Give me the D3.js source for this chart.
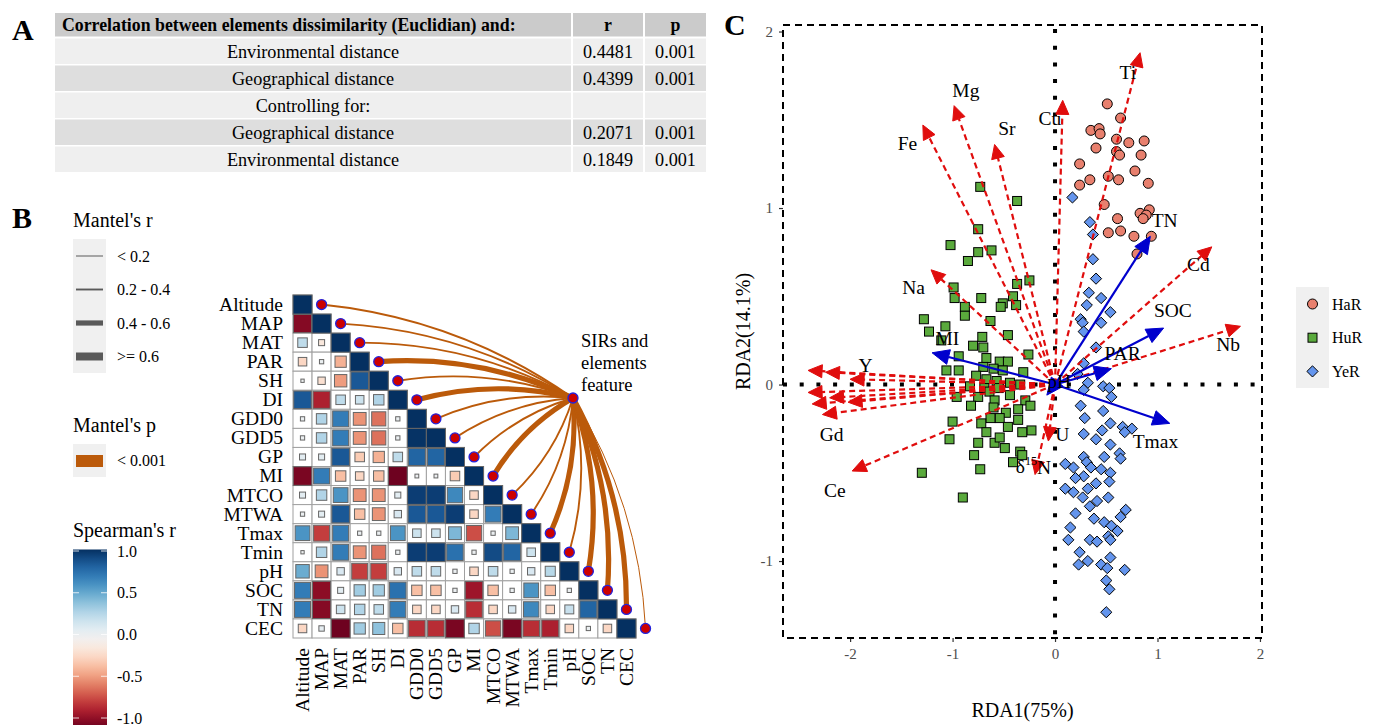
<!DOCTYPE html>
<html>
<head>
<meta charset="utf-8">
<script src="https://cdn.jsdelivr.net/npm/d3@7"></script>
<style>
  body { margin: 0; background: #fff; }
  svg, svg text { font-family: "Liberation Serif", "Times New Roman", Times, serif; }
</style>
</head>
<body>
<svg id="fig" width="1373" height="725"></svg>
<script>
// ---------------- Panel A: Mantel test table ----------------
const tableHeader = ["Correlation between elements dissimilarity (Euclidian) and:", "r", "p"];
const tableRows = ["Environmental distance", "Geographical distance", "Controlling for:", "Geographical distance", "Environmental distance"];
const tableR = ["0.4481", "0.4399", "", "0.2071", "0.1849"];
const tableP = ["0.001", "0.001", "", "0.001", "0.001"];

// ---------------- Panel B: Spearman matrix + Mantel links ----------------
const envVars = ["Altitude","MAP","MAT","PAR","SH","DI","GDD0","GDD5","GP","MI","MTCO","MTWA","Tmax","Tmin","pH","SOC","TN","CEC"];
// lower triangle, row i holds correlations with variables 0..i-1
const spearmanRows = [
  [],
  [-0.92],
  [0.25, -0.10],
  [-0.20, 0.05, -0.35],
  [0.03, -0.15, -0.42, 0.85],
  [0.85, -0.80, 0.25, 0.20, 0.30],
  [0.05, 0.30, 0.70, -0.45, -0.55, 0.05],
  [0.05, 0.30, 0.70, -0.45, -0.55, 0.05, 0.99],
  [0.10, 0.10, 0.85, -0.25, -0.35, 0.25, 0.80, 0.80],
  [-0.95, 0.70, -0.30, -0.20, -0.30, -0.98, 0.04, 0.04, -0.25],
  [0.10, 0.30, 0.60, -0.45, -0.45, 0.10, 0.95, 0.95, 0.65, -0.20],
  [0.05, 0.10, 0.85, -0.30, -0.45, 0.15, 0.85, 0.85, 0.95, -0.20, 0.70],
  [0.60, -0.70, 0.70, 0.05, 0.05, 0.60, 0.20, 0.20, 0.45, -0.65, 0.05, 0.45],
  [0.03, 0.30, 0.70, -0.45, -0.55, 0.05, 0.95, 0.95, 0.75, 0.05, 0.90, 0.80, 0.20],
  [0.50, -0.45, 0.15, -0.70, -0.70, 0.15, 0.25, 0.25, 0.05, -0.20, 0.25, 0.05, 0.15, 0.28],
  [0.70, -0.90, 0.10, 0.35, 0.35, 0.75, -0.30, -0.30, 0.05, -0.85, -0.30, 0.05, 0.60, -0.30, 0.05],
  [0.70, -0.92, 0.20, 0.30, 0.25, 0.70, -0.20, -0.20, 0.15, -0.75, -0.20, 0.15, 0.65, -0.20, 0.22, 0.80],
  [-0.20, 0.08, -0.98, 0.35, 0.40, -0.30, -0.75, -0.75, -0.95, 0.30, -0.65, -0.95, -0.75, -0.80, -0.20, 0.05, -0.20]
];
// Mantel's r between each variable and the SIRs/elements feature (all p < 0.001)
const mantelLinkR = [0.30,0.30,0.30,0.50,0.30,0.50,0.30,0.30,0.30,0.50,0.30,0.30,0.50,0.30,0.50,0.50,0.50,0.10];
const mantelRClasses = ["< 0.2", "0.2 - 0.4", "0.4 - 0.6", ">= 0.6"];
const mantelRBreaks = [0.2, 0.4, 0.6];
const spearmanTicks = [1.0, 0.5, 0.0, -0.5, -1.0];

// ---------------- Panel C: RDA biplot ----------------
const groups = ["HaR", "HuR", "YeR"];
const HaR = [[0.51,1.59],[0.64,1.51],[0.35,1.44],[0.43,1.45],[0.44,1.42],[0.60,1.39],[0.72,1.37],[0.87,1.38],[0.40,1.34],[0.60,1.32],[0.63,1.30],[0.84,1.30],[0.24,1.25],[0.78,1.21],[0.52,1.18],[0.34,1.16],[0.62,1.16],[0.91,1.14],[0.24,1.13],[0.48,1.02],[0.92,0.99],[0.83,0.97],[0.89,0.96],[0.86,0.94],[0.61,0.94],[0.52,0.86],[0.64,0.87],[0.77,0.84],[0.94,0.84],[0.80,0.74]];
const HuR = [[-0.73,1.12],[-0.37,1.04],[-0.75,0.88],[-1.02,0.79],[-0.75,0.75],[-0.85,0.70],[-0.62,0.76],[-0.37,0.57],[-0.25,0.59],[-0.99,0.55],[-0.98,0.49],[-0.72,0.49],[-0.41,0.50],[-0.51,0.46],[-0.38,0.45],[-0.88,0.44],[-0.88,0.39],[-1.28,0.37],[-0.63,0.36],[-0.53,0.44],[-1.23,0.30],[-1.07,0.33],[-1.11,0.25],[-0.46,0.28],[-0.71,0.27],[-0.80,0.22],[-0.70,0.21],[-0.26,0.17],[-0.94,0.16],[-0.67,0.15],[-0.54,0.13],[-0.46,0.13],[-0.70,0.10],[-1.06,0.08],[-0.94,0.08],[-0.60,0.09],[-0.51,0.08],[-0.31,0.07],[-0.77,0.05],[-0.67,0.03],[-0.57,0.02],[-0.44,0.01],[-0.34,0.00],[-0.83,-0.01],[-0.69,-0.02],[-0.55,-0.02],[-0.64,-0.04],[-0.44,-0.06],[-0.96,-0.07],[-0.75,-0.07],[-0.59,-0.09],[-0.29,-0.09],[-0.24,-0.12],[-0.82,-0.12],[-0.60,-0.13],[-0.48,-0.16],[-0.36,-0.14],[-0.54,-0.19],[-0.63,-0.19],[-0.36,-0.20],[-0.72,-0.22],[-1.00,-0.21],[-0.46,-0.24],[-0.23,-0.26],[-0.32,-0.27],[-0.67,-0.27],[-1.03,-0.31],[-0.75,-0.33],[-0.59,-0.33],[-0.54,-0.30],[-0.49,-0.36],[-0.34,-0.38],[-0.79,-0.40],[-0.32,-0.40],[-0.41,-0.44],[-1.30,-0.50],[-0.73,-0.48],[-0.90,-0.64]];
const YeR = [[0.17,1.06],[0.34,0.92],[0.37,0.85],[0.37,0.71],[0.40,0.60],[0.33,0.52],[0.45,0.49],[0.31,0.45],[0.54,0.41],[0.25,0.37],[0.27,0.35],[0.45,0.35],[0.28,0.30],[0.40,0.21],[0.28,0.12],[0.22,0.06],[0.32,0.01],[0.47,-0.01],[0.28,-0.03],[0.53,-0.02],[0.55,-0.07],[0.25,-0.12],[0.47,-0.15],[0.29,-0.19],[0.54,-0.22],[0.46,-0.26],[0.66,-0.24],[0.75,-0.25],[0.68,-0.27],[0.28,-0.28],[0.40,-0.31],[0.54,-0.34],[0.63,-0.39],[0.64,-0.42],[0.28,-0.41],[0.48,-0.41],[0.10,-0.45],[0.31,-0.44],[0.35,-0.47],[0.18,-0.47],[0.45,-0.48],[0.54,-0.50],[0.28,-0.52],[0.40,-0.56],[0.20,-0.53],[0.53,-0.55],[0.10,-0.59],[0.18,-0.61],[0.32,-0.59],[0.27,-0.64],[0.41,-0.66],[0.52,-0.64],[0.34,-0.69],[0.69,-0.71],[0.20,-0.73],[0.64,-0.75],[0.38,-0.76],[0.48,-0.78],[0.15,-0.81],[0.55,-0.80],[0.61,-0.83],[0.34,-0.88],[0.41,-0.89],[0.52,-0.86],[0.54,-0.88],[0.13,-0.88],[0.24,-0.95],[0.23,-1.02],[0.32,-1.00],[0.45,-1.02],[0.54,-0.98],[0.51,-1.04],[0.68,-1.05],[0.50,-1.11],[0.53,-1.16],[0.50,-1.29]];

// element (response) vectors: name, tip x, tip y, label x, label y
const elemNames = ["Ti","Cu","Mg","Sr","Fe","Na","Cd","Nb","Y","","","","","","Gd","","Ce","U","δ15N"];
const elemX     = [0.83, 0.075,-0.985,-0.59,-1.29,-1.21, 1.53, 1.81,-2.41,-2.24,-2.00,-2.41,-2.20,-2.02,-2.27,-2.37,-1.98,-0.065,-0.195];
const elemY     = [1.88, 1.61, 1.58, 1.36, 1.47, 0.65, 0.78, 0.33, 0.08, 0.07, 0.03,-0.045,-0.075,-0.10,-0.17,-0.11,-0.49,-0.32,-0.51];
const elemLabX  = [0.71,-0.05,-0.87,-0.47,-1.44,-1.38, 1.40, 1.69,-1.85, 0, 0, 0, 0, 0,-2.18, 0,-2.15, 0.07,-0.21];
const elemLabY  = [1.77, 1.51, 1.67, 1.45, 1.37, 0.55, 0.68, 0.23, 0.11, 0, 0, 0, 0, 0,-0.28, 0,-0.60,-0.28,-0.46];

// environmental (explanatory) vectors
const envNames = ["TN","SOC","PAR","Tmax","MI","pH"];
const envX     = [0.93, 1.06, 0.55, 1.12,-1.20,-0.08];
const envY     = [0.84, 0.32, 0.09,-0.22, 0.18,-0.06];
const envLabX  = [1.07, 1.15, 0.66, 0.98,-1.05, 0.04];
const envLabY  = [0.93, 0.42, 0.18,-0.32, 0.26, 0.02];

const rdaTicksX = [-2, -1, 0, 1, 2];
const rdaTicksY = [-1, 0, 1, 2];

// ================================================================
const serif = '"Liberation Serif", "Times New Roman", Times, serif';
const svg = d3.select("#fig").attr("font-family", serif);

// panel letters
[["A", 12, 40], ["B", 12, 228], ["C", 724, 35]].forEach(([t, x, y]) =>
  svg.append("text").attr("x", x).attr("y", y).attr("font-size", 30)
     .attr("font-family", serif).attr("font-weight", "bold").text(t));

// ---------------- A ----------------
(function drawTable() {
  const g = svg.append("g").attr("font-family", serif);
  const colX = d3.scaleOrdinal().domain([0, 1, 2]).range([54, 572, 644]);
  const colW = [518, 72, 63];
  const rowY = d3.scaleBand().domain(d3.range(tableRows.length)).range([37.5, 172.5]);
  const rowBg = ["#efefef", "#dedede", "#efefef", "#dedede", "#efefef"];
  // header
  tableHeader.forEach((h, c) => {
    g.append("rect").attr("x", colX(c) + 1).attr("y", 13).attr("width", colW[c] - 2)
     .attr("height", 23.5).attr("fill", "#cbcbcb");
    g.append("text").attr("x", c === 0 ? colX(c) + 8 : colX(c) + colW[c] / 2)
     .attr("y", 31).attr("text-anchor", c === 0 ? "start" : "middle")
     .attr("font-family", serif)
     .attr("font-size", 17.8).attr("font-weight", "bold").text(h);
  });
  tableRows.forEach((lab, i) => {
    const cells = [lab, tableR[i], tableP[i]];
    cells.forEach((t, c) => {
      g.append("rect").attr("x", colX(c) + 1).attr("y", rowY(i) + 1)
       .attr("width", colW[c] - 2).attr("height", rowY.bandwidth() - 1.5)
       .attr("fill", rowBg[i]);
      g.append("text").attr("x", colX(c) + colW[c] / 2).attr("y", rowY(i) + rowY.bandwidth() / 2 + 6.5)
       .attr("text-anchor", "middle").attr("font-family", serif).attr("font-size", 18.2).text(t);
    });
  });
})();

// ---------------- B ----------------
const colorRdBu = v => d3.interpolateRdBu((v + 1) / 2);
const band = d3.scaleBand().domain(envVars).range([293, 636]);
const bandY = d3.scaleBand().domain(envVars).range([295, 638]);
const cs = band.bandwidth();
const sideScale = d3.scaleSqrt().domain([0, 1]).range([0, cs]);
const linkWidth = d3.scaleThreshold().domain(mantelRBreaks).range([1, 1.9, 5.2, 8]);
const linkColor = "#bb5a0a";

(function drawMatrix() {
  const g = svg.append("g").attr("font-family", serif);
  const cells = [];
  envVars.forEach((rv, i) => {
    for (let j = 0; j <= i; j++) {
      cells.push({ row: rv, col: envVars[j], r: i === j ? 1 : spearmanRows[i][j] });
    }
  });
  g.selectAll("rect.cell").data(cells).join("rect").attr("class", "cell")
    .attr("x", d => band(d.col)).attr("y", d => bandY(d.row))
    .attr("width", cs).attr("height", cs)
    .attr("fill", "#fff").attr("stroke", "#a0a0a0").attr("stroke-width", 1);
  g.selectAll("rect.sq").data(cells).join("rect").attr("class", "sq")
    .attr("x", d => band(d.col) + (cs - sideScale(Math.abs(d.r))) / 2)
    .attr("y", d => bandY(d.row) + (cs - sideScale(Math.abs(d.r))) / 2)
    .attr("width", d => sideScale(Math.abs(d.r)))
    .attr("height", d => sideScale(Math.abs(d.r)))
    .attr("fill", d => colorRdBu(d.r)).attr("stroke", "#666").attr("stroke-width", 1);

  // row labels
  g.selectAll("text.rl").data(envVars).join("text").attr("class", "rl")
    .attr("x", 283).attr("y", d => bandY(d) + cs / 2).attr("dy", "0.33em")
    .attr("text-anchor", "end").attr("font-family", serif).attr("font-size", 19.5).text(d => d);
  // column labels
  g.selectAll("text.cl").data(envVars).join("text").attr("class", "cl")
    .attr("transform", d => `translate(${band(d) + cs / 2},648) rotate(-90)`)
    .attr("dy", "0.33em").attr("text-anchor", "end").attr("font-family", serif)
    .attr("font-size", 19.5).text(d => d);

  // Mantel links
  const hub = [573, 398];
  const nodes = envVars.map((v, i) => ({
    name: v, r: mantelLinkR[i],
    x: 293 + (i + 1.5) * cs, y: bandY(v) + cs / 2
  }));
  const curve = (x0, y0, x1, y1) => {
    const dx = x1 - x0, dy = y1 - y0, L = Math.hypot(dx, dy);
    let nx = -dy / L, ny = dx / L;
    if (nx - ny < 0) { nx = -nx; ny = -ny; }
    const k = 0.13 * L;
    return `M${x0},${y0}Q${(x0 + x1) / 2 + nx * k},${(y0 + y1) / 2 + ny * k} ${x1},${y1}`;
  };
  g.selectAll("path.link").data(nodes).join("path").attr("class", "link")
    .attr("d", d => curve(hub[0], hub[1], d.x, d.y))
    .attr("fill", "none").attr("stroke", linkColor)
    .attr("stroke-width", d => linkWidth(d.r));
  g.selectAll("circle.node").data(nodes.concat([{ x: hub[0], y: hub[1] }])).join("circle")
    .attr("class", "node").attr("cx", d => d.x).attr("cy", d => d.y).attr("r", 5)
    .attr("fill", "#cc0000").attr("stroke", "#2222dd").attr("stroke-width", 1.3);
  const hubLab = g.append("text").attr("x", 581).attr("font-family", serif).attr("font-size", 18.5);
  ["SIRs and", "elements", "feature"].forEach((t, i) =>
    hubLab.append("tspan").attr("x", 581).attr("y", 347 + i * 22).text(t));
})();

(function drawLegendB() {
  const g = svg.append("g").attr("font-family", serif);
  g.append("text").attr("x", 73).attr("y", 227).attr("font-size", 20).text("Mantel's r");
  g.append("rect").attr("x", 73).attr("y", 239).attr("width", 33).attr("height", 134).attr("fill", "#f0f0f0");
  const widths = [0.1, 0.3, 0.5, 0.7].map(linkWidth);
  mantelRClasses.forEach((t, i) => {
    const cy = 256 + i * 33.5;
    g.append("line").attr("x1", 76).attr("x2", 103).attr("y1", cy).attr("y2", cy)
      .attr("stroke", "#5a5a5a").attr("stroke-width", widths[i]);
    g.append("text").attr("x", 117).attr("y", cy + 5.5).attr("font-size", 16).text(t);
  });
  g.append("text").attr("x", 73).attr("y", 432).attr("font-size", 20).text("Mantel's p");
  g.append("rect").attr("x", 73).attr("y", 444).attr("width", 33).attr("height", 33).attr("fill", "#f0f0f0");
  g.append("rect").attr("x", 76).attr("y", 455).attr("width", 27).attr("height", 12).attr("fill", linkColor);
  g.append("text").attr("x", 117).attr("y", 466).attr("font-size", 16).text("< 0.001");

  g.append("text").attr("x", 73).attr("y", 537).attr("font-size", 20).text("Spearman's r");
  const cbY = d3.scaleLinear().domain([-1, 1]).range([718, 551]);
  const defs = svg.append("defs");
  const grad = defs.append("linearGradient").attr("id", "rdbu").attr("x1", 0).attr("x2", 0).attr("y1", 1).attr("y2", 0);
  d3.range(0, 1.0001, 0.05).forEach(t =>
    grad.append("stop").attr("offset", t).attr("stop-color", d3.interpolateRdBu(t)));
  g.append("rect").attr("x", 73).attr("y", cbY(1) - 1.5).attr("width", 34)
    .attr("height", cbY(-1) - cbY(1) + 12).attr("fill", "url(#rdbu)");
  spearmanTicks.forEach(v => {
    [[73, 79], [101, 107]].forEach(([a, b]) =>
      g.append("line").attr("x1", a).attr("x2", b).attr("y1", cbY(v)).attr("y2", cbY(v))
        .attr("stroke", "#fff").attr("stroke-width", 1).attr("opacity", 0.8));
    g.append("text").attr("x", 117).attr("y", cbY(v) + 5.5).attr("font-size", 16)
      .text(v.toFixed(1));
  });
})();

// ---------------- C ----------------
(function drawRDA() {
  const g = svg.append("g").attr("font-family", serif);
  const x = d3.scaleLinear().domain([-2.655, 2.02]).range([783, 1262]);
  const y = d3.scaleLinear().domain([-1.436, 2.037]).range([638, 25]);
  const [X0, X1] = x.range(), [Y1, Y0] = y.range();

  // zero reference lines
  g.append("line").attr("x1", X0).attr("x2", X1).attr("y1", y(0)).attr("y2", y(0))
    .attr("stroke", "#000").attr("stroke-width", 4).attr("stroke-dasharray", "4,12.7");
  g.append("line").attr("x1", x(0)).attr("x2", x(0)).attr("y1", Y0 + 4).attr("y2", Y1)
    .attr("stroke", "#000").attr("stroke-width", 4).attr("stroke-dasharray", "4,12.7");

  // axes
  const ax = g.append("g").attr("transform", `translate(0,${Y1})`)
    .call(d3.axisBottom(x).tickValues(rdaTicksX).tickSize(4).tickPadding(6).tickFormat(d => String(d)));
  const ay = g.append("g").attr("transform", `translate(${X0},0)`)
    .call(d3.axisLeft(y).tickValues(rdaTicksY).tickSize(4).tickPadding(6).tickFormat(d => String(d)));
  [ax, ay].forEach(a => {
    a.attr("font-family", serif);
    a.select(".domain").remove();
    a.selectAll(".tick line").attr("stroke", "#333").attr("stroke-width", 1.2);
    a.selectAll(".tick text").attr("fill", "#4d4d4d").attr("font-size", 15).attr("font-family", serif);
  });

  // points
  const pts = g.append("g");
  pts.selectAll("circle").data(HaR).join("circle")
    .attr("cx", d => x(d[0])).attr("cy", d => y(d[1])).attr("r", 5)
    .attr("fill", "#e8806e").attr("stroke", "#000").attr("stroke-width", 1);
  pts.selectAll("rect").data(HuR).join("rect")
    .attr("x", d => x(d[0]) - 4.5).attr("y", d => y(d[1]) - 4.5).attr("width", 9).attr("height", 9)
    .attr("fill", "#5aaa3c").attr("stroke", "#000").attr("stroke-width", 1);
  const diamond = (cx, cy, s) => `M${cx},${cy - s}L${cx + s},${cy}L${cx},${cy + s}L${cx - s},${cy}Z`;
  pts.selectAll("path").data(YeR).join("path")
    .attr("d", d => diamond(x(d[0]), y(d[1]), 5.6))
    .attr("fill", "#6495ed").attr("stroke", "#000").attr("stroke-width", 1);

  // arrows
  const arrow = (parent, tx, ty, color, dash, headLen, headW, width) => {
    const ox = x(0), oy = y(0), px = x(tx), py = y(ty);
    const L = Math.hypot(px - ox, py - oy), ux = (px - ox) / L, uy = (py - oy) / L;
    const bx = px - ux * headLen, by = py - uy * headLen;
    parent.append("line").attr("x1", ox).attr("y1", oy).attr("x2", bx).attr("y2", by)
      .attr("stroke", color).attr("stroke-width", width).attr("stroke-dasharray", dash);
    parent.append("path")
      .attr("d", `M${px},${py}L${bx - uy * headW},${by + ux * headW}L${bx + uy * headW},${by - ux * headW}Z`)
      .attr("fill", color).attr("stroke", color).attr("stroke-width", 1);
  };
  const red = g.append("g");
  elemX.forEach((v, i) => arrow(red, v, elemY[i], "#e00d0d", "6,4", 14, 6.5, 2.2));
  const blue = g.append("g");
  envX.forEach((v, i) => arrow(blue, v, envY[i], "#0000cd", null, 17, 7.5, 2.2));

  // vector labels
  const labs = g.append("g").attr("font-size", 19.5).attr("text-anchor", "middle").attr("font-family", serif);
  elemNames.forEach((n, i) => {
    if (!n) return;
    const t = labs.append("text").attr("x", x(elemLabX[i])).attr("y", y(elemLabY[i])).attr("dy", "0.35em");
    if (n === "δ15N") {
      t.append("tspan").text("δ");
      t.append("tspan").attr("font-size", 12).attr("dy", "-0.6em").text("15");
      t.append("tspan").attr("dy", "0.45em").text("N");
    } else t.text(n);
  });
  envNames.forEach((n, i) =>
    labs.append("text").attr("x", x(envLabX[i])).attr("y", y(envLabY[i])).attr("dy", "0.35em").text(n));

  // dashed panel border
  g.append("rect").attr("x", X0).attr("y", Y0).attr("width", X1 - X0).attr("height", Y1 - Y0)
    .attr("fill", "none").attr("stroke", "#000").attr("stroke-width", 2).attr("stroke-dasharray", "7,5");

  // axis titles
  g.append("text").attr("x", (X0 + X1) / 2).attr("y", 717).attr("text-anchor", "middle")
    .attr("font-size", 20).text("RDA1(75%)");
  g.append("text").attr("transform", `translate(750,${(Y0 + Y1) / 2}) rotate(-90)`)
    .attr("text-anchor", "middle").attr("font-size", 20).text("RDA2(14.1%)");

  // legend
  const lg = g.append("g");
  lg.append("rect").attr("x", 1296).attr("y", 287).attr("width", 33).attr("height", 101).attr("fill", "#f0f0f0");
  groups.forEach((gname, i) => {
    const cy = 304 + i * 33.7, cx = 1312.5;
    if (i === 0) lg.append("circle").attr("cx", cx).attr("cy", cy).attr("r", 5)
      .attr("fill", "#e8806e").attr("stroke", "#000");
    if (i === 1) lg.append("rect").attr("x", cx - 4.5).attr("y", cy - 4.5).attr("width", 9).attr("height", 9)
      .attr("fill", "#5aaa3c").attr("stroke", "#000");
    if (i === 2) lg.append("path").attr("d", diamond(cx, cy, 5.6))
      .attr("fill", "#6495ed").attr("stroke", "#000");
    lg.append("text").attr("x", 1332).attr("y", cy + 5.5).attr("font-size", 16).text(gname);
  });
})();
</script>
</body>
</html>
